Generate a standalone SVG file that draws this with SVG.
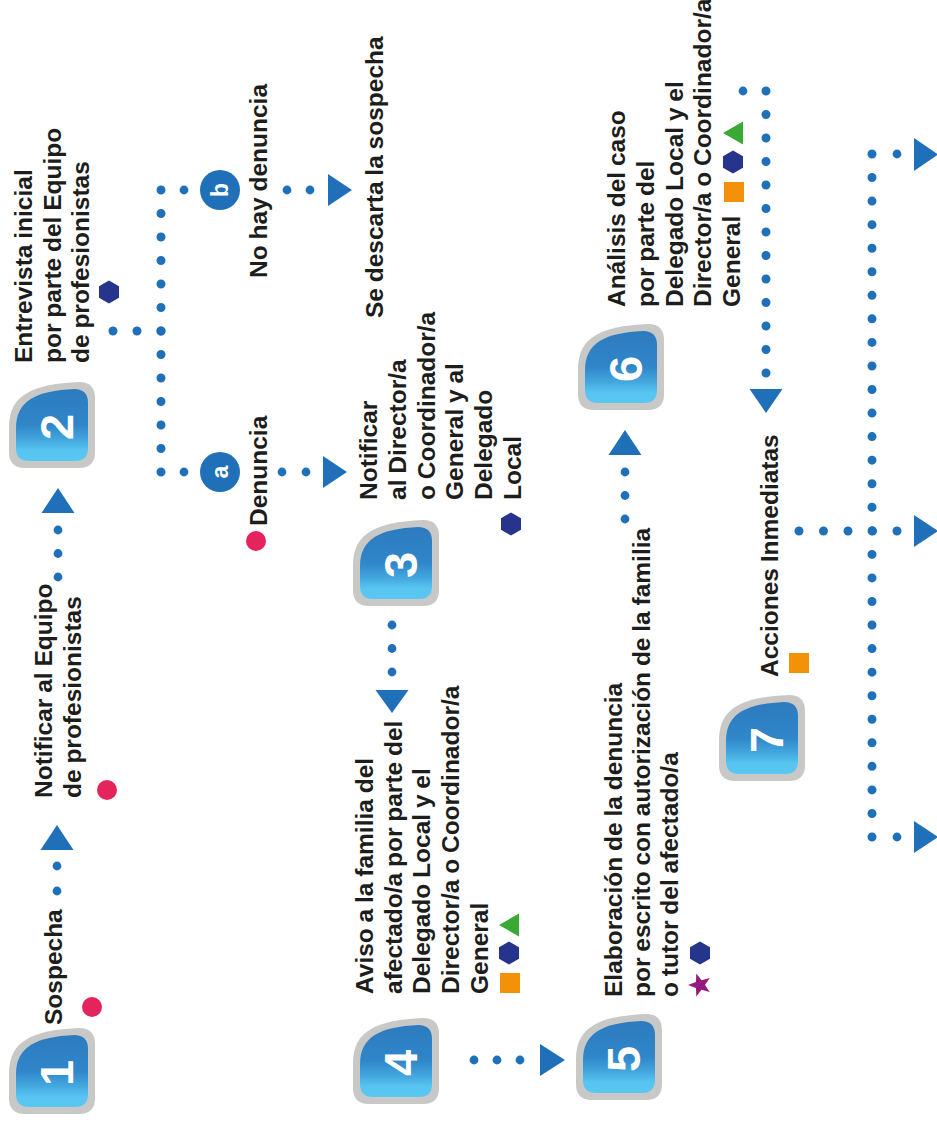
<svg xmlns="http://www.w3.org/2000/svg" xmlns:xlink="http://www.w3.org/1999/xlink" width="937" height="1122" viewBox="0 0 937 1122">
<style>
.t{font-family:"Liberation Sans",Arial,sans-serif;font-weight:bold;font-size:24.5px;fill:#1d1d1b;word-spacing:-1px}
.num{font-family:"Liberation Sans",Arial,sans-serif;font-weight:bold;font-size:47px;fill:#fff;text-anchor:middle}
.let{font-family:"Liberation Sans",Arial,sans-serif;font-weight:bold;font-size:23px;fill:#fff;text-anchor:middle}
.dl{stroke:#1f70b8;stroke-width:9;stroke-linecap:round;fill:none}
.dot{fill:#1f70b8}
.arr{fill:#1f70b8}
.hex{fill:#27348b}
.red{fill:#e5245d}
.grn{fill:#3aaa35}
.org{fill:#f39208}
.pur{fill:#951b81}
.circ{fill:#1f70b8}
</style>
<defs>
<linearGradient id="bg" x1="0" y1="0" x2="0" y2="1">
<stop offset="0" stop-color="#2d7bbf"/>
<stop offset="0.5" stop-color="#2f86c9"/>
<stop offset="0.72" stop-color="#45a9e0"/>
<stop offset="0.85" stop-color="#57c4f1"/>
<stop offset="1" stop-color="#5ac7f3"/>
</linearGradient>
<g id="badge">
<path d="M70,0 Q86,0 86,16 L86,70 Q86,86 70,86 L16,86 Q0,86 0,70 L0,45 C0,12 25,2 70,0 Z" fill="#c8c8c6"/>
<path d="M65,7 Q79,7 79,21 L79,66 Q79,79 66,79 L20,79 Q7,79 7,66 L7,46 C7,18 28,9 65,7 Z" fill="url(#bg)"/>
</g>
<path id="hx" d="M0,-11.5 L10,-5.75 L10,5.75 L0,11.5 L-10,5.75 L-10,-5.75 Z"/>
</defs>

<g id="connectors">
<circle class="dot" cx="57" cy="891" r="4.4"/>
<circle class="dot" cx="57" cy="866" r="4.4"/>
<path class="arr" d="M57,825 L73.5,850 L40.5,850 Z"/>
<circle class="dot" cx="58" cy="577" r="4.4"/>
<circle class="dot" cx="58" cy="553.5" r="4.4"/>
<circle class="dot" cx="58" cy="530" r="4.4"/>
<path class="arr" d="M58,488 L74.5,513 L41.5,513 Z"/>
<line class="dl" x1="113" y1="331" x2="161.5" y2="331" stroke-dasharray="0 24"/>
<line class="dl" x1="161" y1="190" x2="161" y2="472.5" stroke-dasharray="0 23.5"/>
<circle class="dot" cx="184" cy="190" r="4.4"/>
<circle class="dot" cx="287" cy="190" r="4.4"/>
<circle class="dot" cx="310" cy="190" r="4.4"/>
<path class="arr" d="M328,174 L352,190 L328,206 Z"/>
<circle class="dot" cx="184" cy="472" r="4.4"/>
<circle class="dot" cx="282" cy="472" r="4.4"/>
<circle class="dot" cx="306" cy="472" r="4.4"/>
<path class="arr" d="M323,456 L347,472 L323,488 Z"/>
<circle class="dot" cx="392" cy="625" r="4.4"/>
<circle class="dot" cx="392" cy="648.5" r="4.4"/>
<circle class="dot" cx="392" cy="672" r="4.4"/>
<path class="arr" d="M375.5,690 L408.5,690 L392,713 Z"/>
<circle class="dot" cx="474" cy="1060" r="4.4"/>
<circle class="dot" cx="497" cy="1060" r="4.4"/>
<circle class="dot" cx="520" cy="1060" r="4.4"/>
<path class="arr" d="M540,1044 L565,1060 L540,1076 Z"/>
<circle class="dot" cx="625" cy="519" r="4.4"/>
<circle class="dot" cx="625" cy="495.5" r="4.4"/>
<circle class="dot" cx="625" cy="472" r="4.4"/>
<path class="arr" d="M625,430 L641.5,455 L608.5,455 Z"/>
<circle class="dot" cx="743" cy="91" r="4.4"/>
<line class="dl" x1="766" y1="91" x2="766" y2="373.5" stroke-dasharray="0 23.5"/>
<path class="arr" d="M749.5,389 L782.5,389 L766,413 Z"/>
<line class="dl" x1="872" y1="154" x2="872" y2="837.5" stroke-dasharray="0 23.552"/>
<line class="dl" x1="799" y1="531" x2="897.5" y2="531" stroke-dasharray="0 24.5"/>
<circle class="dot" cx="897" cy="154" r="4.4"/>
<circle class="dot" cx="897" cy="837" r="4.4"/>
<path class="arr" d="M914,138 L938,154.5 L914,171 Z"/>
<path class="arr" d="M914,515 L938,531 L914,547 Z"/>
<path class="arr" d="M914,821 L938,837 L914,853 Z"/>
</g>

<g id="node1">
<use href="#badge" x="9" y="1028"/>
<text class="num" transform="translate(73,1073) rotate(-90)">1</text>
<text class="t" transform="translate(62,1025) rotate(-90)">Sospecha</text>
<circle class="red" cx="92" cy="1007" r="10"/>
</g>

<g id="label-notificar-equipo">
<text class="t" transform="translate(52,798) rotate(-90)"><tspan x="0" y="0">Notificar al Equipo</tspan><tspan x="0" dy="29">de profesionistas</tspan></text>
<circle class="red" cx="107" cy="790" r="10"/>
</g>

<g id="node2">
<use href="#badge" x="9" y="382"/>
<text class="num" transform="translate(73,427) rotate(-90)">2</text>
<text class="t" transform="translate(32,363) rotate(-90)"><tspan x="0" y="0">Entrevista inicial</tspan><tspan x="0" dy="28.5">por parte del Equipo</tspan><tspan x="0" dy="28.5">de profesionistas</tspan></text>
<use href="#hx" class="hex" x="109" y="292"/>
</g>

<g id="node-b">
<circle class="circ" cx="220" cy="190" r="20"/>
<text class="let" transform="translate(228,190) rotate(-90)">b</text>
<text class="t" transform="translate(267,278) rotate(-90)">No hay denuncia</text>
</g>

<g id="node-descarta">
<text class="t" transform="translate(383,318) rotate(-90)">Se descarta la sospecha</text>
</g>

<g id="node-a">
<circle class="circ" cx="220" cy="472" r="20"/>
<text class="let" transform="translate(228,472) rotate(-90)">a</text>
<text class="t" transform="translate(267,526) rotate(-90)">Denuncia</text>
<circle class="red" cx="256" cy="541" r="10"/>
</g>

<g id="node3">
<use href="#badge" x="353" y="520"/>
<text class="num" transform="translate(417,565) rotate(-90)">3</text>
<text class="t" transform="translate(377,500) rotate(-90)"><tspan x="0" y="0">Notificar</tspan><tspan x="0" dy="28.8">al Director/a</tspan><tspan x="0" dy="28.8">o Coordinador/a</tspan><tspan x="0" dy="28.8">General y al</tspan><tspan x="0" dy="28.8">Delegado</tspan><tspan x="0" dy="28.8">Local</tspan></text>
<use href="#hx" class="hex" x="511" y="524"/>
</g>

<g id="node4">
<use href="#badge" x="353" y="1018"/>
<text class="num" transform="translate(417,1063) rotate(-90)">4</text>
<text class="t" transform="translate(373,994) rotate(-90)"><tspan x="0" y="0">Aviso a la familia del</tspan><tspan x="0" dy="28.7">afectado/a por parte del</tspan><tspan x="0" dy="28.7">Delegado Local y el</tspan><tspan x="0" dy="28.7">Director/a o Coordinador/a</tspan><tspan x="0" dy="28.7">General</tspan></text>
<path class="grn" d="M499,925 L519,913.5 L519,936.5 Z"/>
<use href="#hx" class="hex" x="509" y="953"/>
<rect class="org" x="500" y="973" width="20" height="20"/>
</g>

<g id="node5">
<use href="#badge" x="576" y="1014"/>
<text class="num" transform="translate(640,1059) rotate(-90)">5</text>
<text class="t" transform="translate(622,997) rotate(-90)"><tspan x="0" y="0">Elaboración de la denuncia</tspan><tspan x="0" dy="28">por escrito con autorización de la familia</tspan><tspan x="0" dy="28">o tutor del afectado/a</tspan></text>
<use href="#hx" class="hex" x="700" y="953"/>
<path class="pur" transform="translate(700,985)" d="M-12,0 L-4.05,-2.94 L-3.71,-11.41 L1.55,-4.76 L9.71,-7.05 L5,0 L9.71,7.05 L1.55,4.76 L-3.71,11.41 L-4.05,2.94 Z"/>
</g>

<g id="node6">
<use href="#badge" x="578" y="324"/>
<text class="num" transform="translate(642,369) rotate(-90)">6</text>
<text class="t" transform="translate(625,307) rotate(-90)"><tspan x="0" y="0">Análisis del caso</tspan><tspan x="0" dy="28.8">por parte del</tspan><tspan x="0" dy="28.8">Delegado Local y el</tspan><tspan x="0" dy="28.8">Director/a o Coordinador/a</tspan><tspan x="0" dy="28.8">General</tspan></text>
<rect class="org" x="724" y="182" width="20" height="20"/>
<use href="#hx" class="hex" x="733" y="162"/>
<path class="grn" d="M723,133 L743,121.5 L743,144.5 Z"/>
</g>

<g id="node7">
<use href="#badge" x="719" y="695"/>
<text class="num" transform="translate(783,740) rotate(-90)">7</text>
<text class="t" transform="translate(778,677) rotate(-90)">Acciones Inmediatas</text>
<rect class="org" x="789" y="653" width="20" height="20"/>
</g>
</svg>
